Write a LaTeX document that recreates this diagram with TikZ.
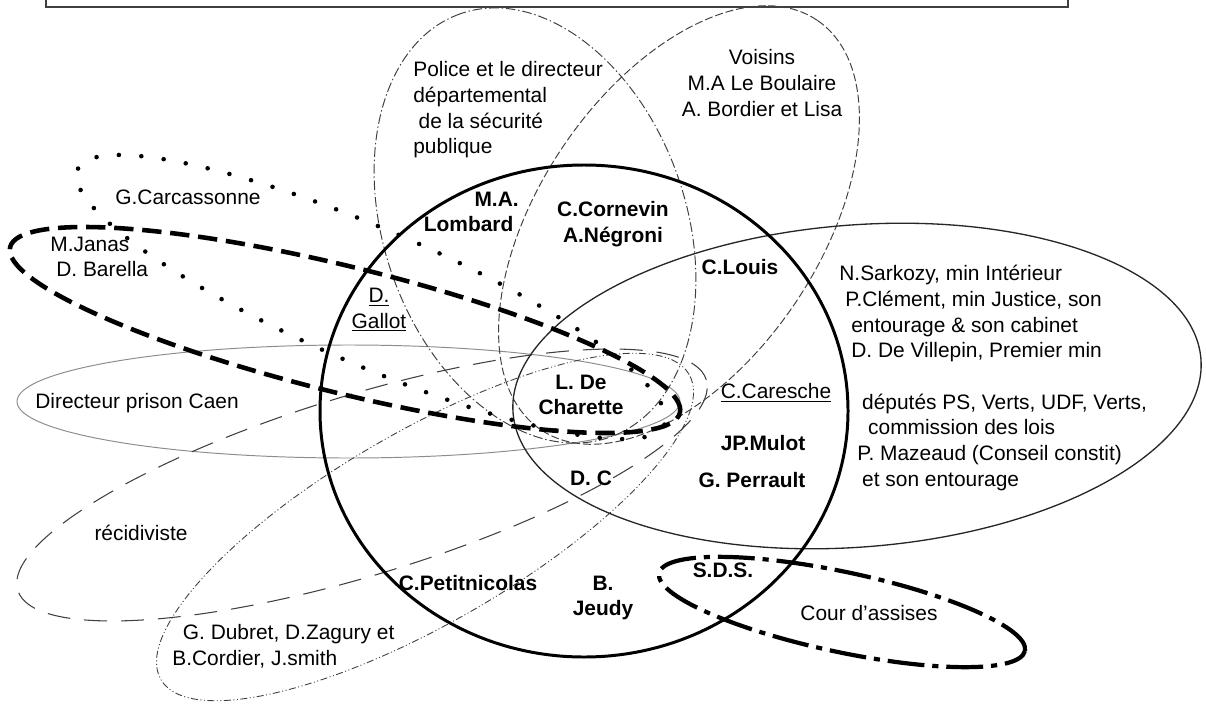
\documentclass[tikz,border=0pt]{standalone}
\usepackage{fontspec}
\setmainfont{Liberation Sans}
\begin{document}
\begin{tikzpicture}[x=0.02cm,y=-0.02cm,
  lbl/.style={inner sep=0pt, font=\fontsize{11.9}{14.6}\selectfont, align=center},
  blbl/.style={lbl, font=\fontsize{11.9}{14.6}\selectfont\bfseries},
  sCirc/.style={line width=1.7pt, black},
  sSark/.style={line width=0.75pt, black!85},
  sPolice/.style={line width=0.55pt, black!75, dash pattern=on 5.5pt off 1.6pt on 0.8pt off 1.6pt},
  sVois/.style={line width=0.55pt, black!75, dash pattern=on 4.5pt off 1.7pt},
  sDir/.style={line width=0.55pt, black!45},
  sRecid/.style={line width=0.6pt, black!75, dash pattern=on 13pt off 8pt},
  sDubr/.style={line width=0.5pt, black!75, dash pattern=on 4pt off 1.4pt on 0.6pt off 1.4pt on 0.6pt off 1.4pt},
  sJanas/.style={line width=2.6pt, black, dash pattern=on 11pt off 5pt},
  sCarca/.style={line width=2.6pt, black, dash pattern=on 0pt off 12.8pt, line cap=round},
  sCour/.style={line width=2.4pt, black, dash pattern=on 21pt off 4.5pt on 3.5pt off 4.5pt}
]
\newcommand{\myell}[6]{\draw[#1, rotate around={#6:(#2,#3)}] (#2,#3) ellipse [x radius=#4*0.02cm, y radius=#5*0.02cm];}
\useasboundingbox (0,0) rectangle (1206,713);
\clip (0,0) rectangle (1206,713);
\fill[white] (0,0) rectangle (1206,713);

% top frame
\draw[line width=0.8pt, black!75] (46,-30) rectangle (1068,7);

% ellipses
\myell{sDir}{348.5}{401.5}{331.5}{56.5}{0}
\myell{sRecid}{362}{485}{360}{90}{17}
\myell{sDubr}{425}{527}{305}{96}{30}
\myell{sPolice}{535}{225.5}{224.5}{151}{109.5}
\myell{sVois}{679}{225}{247}{140}{56}
\myell{sSark}{857}{386}{345}{161}{4.5}
\myell{sCirc}{584}{411}{264}{246}{0}
\myell{sCarca}{371}{297}{320}{68}{-23.5}
\myell{sJanas}{345}{330}{345}{63}{-13.9}
\myell{sCour}{842}{612}{187}{40}{-12}

% labels
\node[lbl, anchor=west, align=left] (police) at (413,110) {Police et le directeur\\d\'epartemental\\\hspace*{3pt}de la s\'ecurit\'e\\publique};
\node[lbl] (voisins) at (762,83) {Voisins\\M.A Le Boulaire\\A. Bordier et Lisa};
\node[blbl, anchor=east, align=right] (lombard) at (519,212) {M.A.\\Lombard\hspace*{3pt}};
\node[blbl] (cornevin) at (613,224) {C.Cornevin\\A.N\'egroni};
\node[blbl] (louis) at (740,267) {C.Louis};
\node[lbl, anchor=west, align=left] (gouv) at (839,378) {N.Sarkozy, min Int\'erieur\\
\hspace*{3.4pt}P.Cl\'ement, min Justice, son\\
\hspace*{6.8pt}entourage \& son cabinet\\
\hspace*{6.8pt}D. De Villepin, Premier min\\[14.6pt]
\hspace*{13pt}d\'eput\'es PS, Verts, UDF, Verts,\\
\hspace*{16.4pt}commission des lois\\
\hspace*{10.2pt}P. Mazeaud (Conseil constit)\\
\hspace*{13pt}et son entourage};
\node[lbl, anchor=west] (carca) at (115,197) {G.Carcassonne};
\node[lbl, anchor=west, align=left] (janas) at (50,257) {M.Janas\\\hspace*{3.4pt}D. Barella};
\node[lbl] (gallot) at (379,310) {\underline{D.}\\\underline{Gallot}};
\node[lbl] (dirp) at (137,403) {Directeur prison Caen};
\node[blbl] (charette) at (581,395) {L. De\\Charette};
\node[lbl] (caresche) at (776,393) {\underline{C.Caresche}};
\node[blbl] (mulot) at (763,443) {JP.Mulot};
\node[blbl] (perrault) at (752,480) {G. Perrault};
\node[blbl] (dc) at (591,478) {D. C};
\node[lbl] (recid) at (141,533) {r\'ecidiviste};
\node[blbl] (petit) at (468,583) {C.Petitnicolas};
\node[blbl] (jeudy) at (603,598) {B.\\Jeudy};
\node[blbl] (sds) at (723,570) {S.D.S.};
\node[lbl] (cour) at (869,613) {Cour d’assises};
\node[lbl, anchor=west, align=left] (dubret) at (172,646) {\hspace*{6pt}G. Dubret, D.Zagury et\\B.Cordier, J.smith};
\end{tikzpicture}
\end{document}
